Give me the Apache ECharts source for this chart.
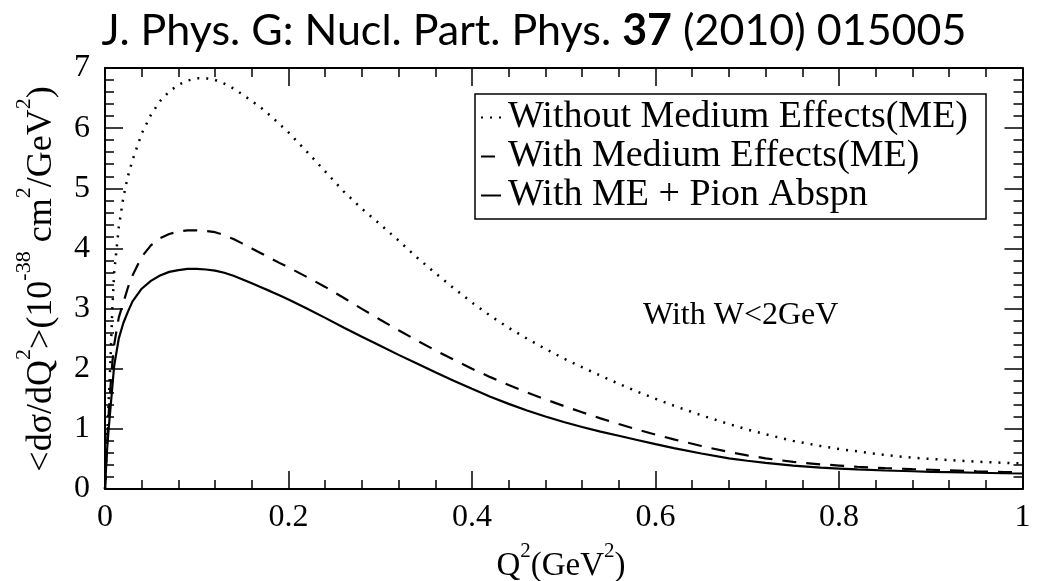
<!DOCTYPE html>
<html>
<head>
<meta charset="utf-8">
<script src="https://cdn.jsdelivr.net/npm/echarts@6/dist/echarts.min.js"></script>
<style>
  html, body { margin: 0; padding: 0; background: #fff; }
  #chart { width: 1038px; height: 581px; }
</style>
</head>
<body>
<div id="chart"></div>
<script>
// Q^2 sampling points (GeV^2)
const qsq = [
  0, 0.002, 0.004, 0.006, 0.008, 0.01, 0.015, 0.02, 0.025, 0.03,
  0.04, 0.05, 0.06, 0.07, 0.08, 0.09, 0.10, 0.11, 0.12, 0.13, 0.14, 0.15, 0.16, 0.17, 0.18, 0.19, 0.20,
  0.22, 0.24, 0.26, 0.28, 0.30, 0.32, 0.34, 0.36, 0.38, 0.40, 0.42, 0.44, 0.46, 0.48, 0.50,
  0.52, 0.54, 0.56, 0.58, 0.60, 0.62,
  0.65, 0.68, 0.70, 0.72, 0.75, 0.78, 0.80, 0.82, 0.85, 0.88, 0.90, 0.92, 0.95, 0.98, 1.00
];

// <dsigma/dQ^2> in units of 1e-38 cm^2/GeV^2
const withoutME = [
  0, 0.75, 1.45, 2.15, 3.0, 3.6, 4.35, 4.85, 5.2, 5.47,
  5.91, 6.22, 6.45, 6.61, 6.72, 6.79, 6.83, 6.83, 6.80, 6.74, 6.66, 6.56, 6.45, 6.34, 6.21, 6.07, 5.93,
  5.61, 5.28, 4.95, 4.66, 4.40, 4.13, 3.85, 3.59, 3.34, 3.10, 2.88, 2.68, 2.50, 2.33, 2.17,
  2.025, 1.885, 1.75, 1.62, 1.50, 1.385,
  1.225, 1.08, 0.99, 0.91, 0.80, 0.715, 0.665, 0.625, 0.565, 0.52, 0.50, 0.48, 0.455, 0.435, 0.425
];

const withME = [
  0, 0.7, 1.25, 1.7, 2.1, 2.4, 2.85, 3.1, 3.35, 3.55,
  3.86, 4.05, 4.17, 4.24, 4.28, 4.30, 4.30, 4.29, 4.27, 4.22, 4.155, 4.08, 4.00, 3.92, 3.84, 3.76, 3.685,
  3.525, 3.36, 3.18, 2.995, 2.815, 2.64, 2.47, 2.305, 2.15, 2.00, 1.86, 1.73, 1.605, 1.49, 1.38,
  1.275, 1.175, 1.08, 0.99, 0.905, 0.825,
  0.715, 0.615, 0.56, 0.51, 0.45, 0.41, 0.39, 0.37, 0.347, 0.33, 0.32, 0.31, 0.295, 0.283, 0.275
];

const withMEPion = [
  0, 0.6, 1.0, 1.35, 1.7, 2.05, 2.5, 2.76, 2.95, 3.12,
  3.33, 3.46, 3.55, 3.61, 3.64, 3.66, 3.66, 3.65, 3.63, 3.595, 3.545, 3.485, 3.42, 3.355, 3.29, 3.22, 3.15,
  3.00, 2.845, 2.685, 2.53, 2.38, 2.23, 2.085, 1.94, 1.80, 1.665, 1.535, 1.415, 1.305, 1.205, 1.115,
  1.03, 0.955, 0.885, 0.815, 0.745, 0.68,
  0.59, 0.51, 0.47, 0.435, 0.39, 0.355, 0.34, 0.325, 0.308, 0.295, 0.286, 0.28, 0.27, 0.262, 0.258
];

const seriesNames = [
  'Without Medium Effects(ME)',
  'With Medium Effects(ME)',
  'With ME + Pion Abspn'
];

const SERIF = 'Liberation Serif';
const pairs = ys => qsq.map((x, i) => [x, ys[i]]);

function frameAxis(pos, isX, showLabel) {
  return {
    type: 'value',
    position: pos,
    min: 0,
    max: isX ? 1 : 7,
    interval: isX ? 0.2 : 1,
    axisLine: { show: true, onZero: false, lineStyle: { color: '#000', width: 2 } },
    axisTick: { show: true, inside: true, length: 18, lineStyle: { color: '#000', width: 1.5 } },
    minorTick: { show: true, splitNumber: 5, length: 9, lineStyle: { color: '#000', width: 1.5 } },
    splitLine: { show: false },
    minorSplitLine: { show: false },
    axisLabel: {
      show: showLabel,
      color: '#000',
      fontFamily: SERIF,
      fontSize: 32,
      margin: isX ? 13 : 15
    }
  };
}

const chart = echarts.init(document.getElementById('chart'), null, { renderer: 'canvas' });

// superscript tokens sit at the top of a tall line box
const supStyle = { fontFamily: SERIF, fontSize: 22, color: '#000', verticalAlign: 'top' };

chart.setOption({
  animation: false,
  backgroundColor: '#fff',
  grid: { left: 105, right: 15.5, top: 68, bottom: 92, containLabel: false },
  xAxis: [frameAxis('bottom', true, true), frameAxis('top', true, false)],
  yAxis: [frameAxis('left', false, true), frameAxis('right', false, false)],
  legend: {
    left: 475,
    top: 94,
    orient: 'vertical',
    selectedMode: false,
    itemWidth: 20,
    itemHeight: 10,
    itemGap: 0,
    padding: [4, 18, 4, 5],
    borderColor: '#000',
    borderWidth: 1.5,
    backgroundColor: '#fff',
    itemStyle: { opacity: 0 },
    textStyle: { fontFamily: SERIF, fontSize: 38, lineHeight: 39, color: '#000', padding: [0, 0, 0, 2] },
    data: seriesNames
  },
  series: [
    {
      name: seriesNames[0], type: 'line', data: pairs(withoutME),
      symbol: 'none', showSymbol: false, smooth: false,
      itemStyle: { color: '#000' },
      lineStyle: { color: '#000', width: 2.5, type: [2, 7] }, z: 3
    },
    {
      name: seriesNames[1], type: 'line', data: pairs(withME),
      symbol: 'none', showSymbol: false, smooth: false,
      itemStyle: { color: '#000' },
      lineStyle: { color: '#000', width: 2.2, type: [14, 10] }, z: 3
    },
    {
      name: seriesNames[2], type: 'line', data: pairs(withMEPion),
      symbol: 'none', showSymbol: false, smooth: false,
      itemStyle: { color: '#000' },
      lineStyle: { color: '#000', width: 2.2, type: 'solid' }, z: 3
    }
  ],
  graphic: [
    {
      // journal reference heading
      type: 'text', x: 534, y: 31, z: 10,
      style: {
        text: '{a|J. Phys. G: Nucl. Part. Phys. }{b|37}{a| (2010) 015005}',
        align: 'center', verticalAlign: 'middle',
        rich: {
          a: { fontFamily: 'Lato', fontSize: 43, color: '#000' },
          b: { fontFamily: 'Lato', fontSize: 43, fontWeight: 'bold', color: '#000' }
        }
      }
    },
    {
      // y-axis title
      type: 'text', x: 41.5, y: 279, rotation: Math.PI / 2, z: 10,
      style: {
        text: '{m|<dσ/dQ}{s|2}{m|>(10}{s|-38}{m| cm}{s|2}{m|/GeV}{s|2}{m|)}',
        align: 'center', verticalAlign: 'middle',
        rich: {
          m: { fontFamily: SERIF, fontSize: 36, lineHeight: 56, color: '#000' },
          s: supStyle
        }
      }
    },
    {
      // x-axis title
      type: 'text', x: 561, y: 566, z: 10,
      style: {
        text: '{m|Q}{s|2}{m|(GeV}{s|2}{m|)}',
        align: 'center', verticalAlign: 'middle',
        rich: {
          m: { fontFamily: SERIF, fontSize: 33, lineHeight: 50, color: '#000' },
          s: { fontFamily: SERIF, fontSize: 21, color: '#000', verticalAlign: 'top' }
        }
      }
    },
    {
      type: 'text', x: 643, y: 300, z: 10,
      style: {
        text: 'With W<2GeV',
        fontFamily: SERIF, fontSize: 32, fill: '#000',
        align: 'left', verticalAlign: 'alphabetic'
      }
    }
  ]
});
</script>
</body>
</html>
